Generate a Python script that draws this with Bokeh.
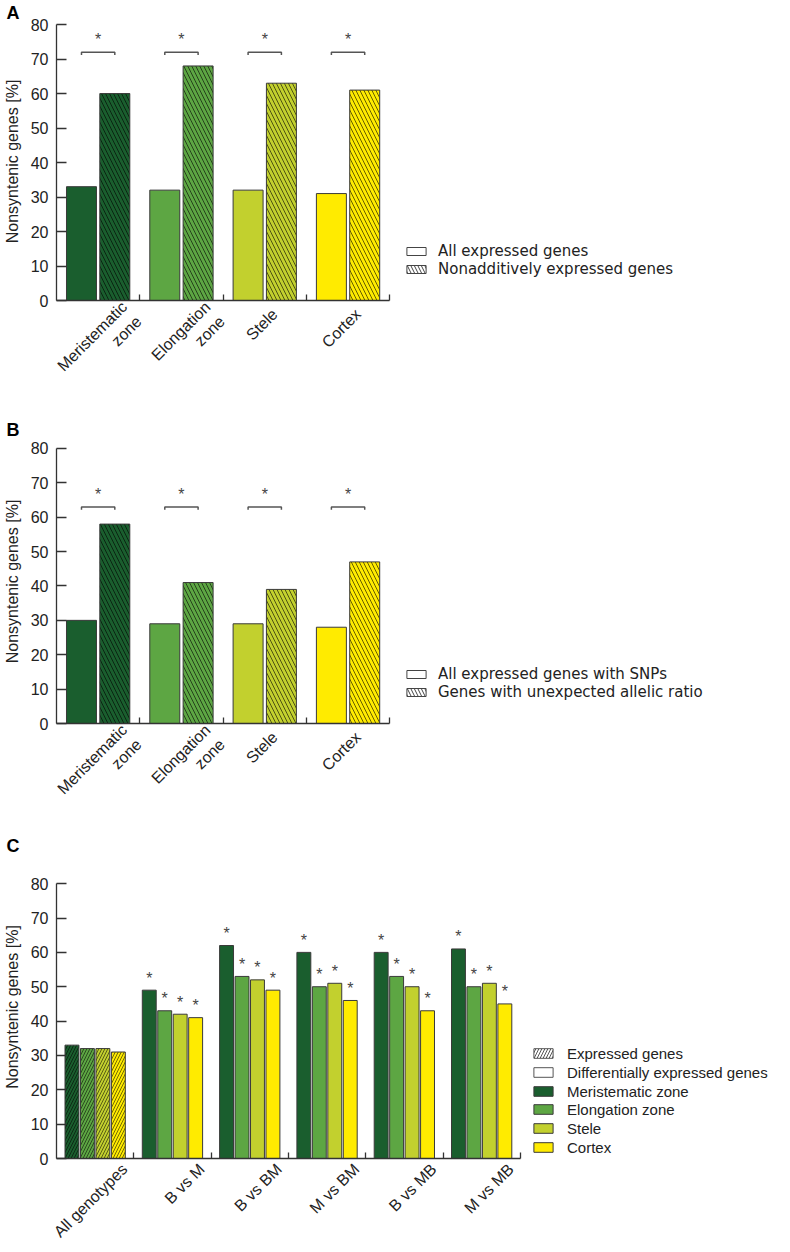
import numpy as np
from math import pi
from bokeh.plotting import figure
from bokeh.layouts import column
from bokeh.models import FixedTicker, Legend, LegendItem, Range1d
from bokeh.core.properties import value
from bokeh.embed import file_html
from bokeh.resources import INLINE

# ---------------- data ----------------
tissues = ["Meristematic zone", "Elongation zone", "Stele", "Cortex"]
tissue_ticklabels = ["Meristematic\nzone", "Elongation\nzone", "Stele", "Cortex"]
tissue_colors = ["#1a5e2e", "#5da643", "#c2d02e", "#ffeb00"]
y_ticks = [0, 10, 20, 30, 40, 50, 60, 70, 80]
y_title = "Nonsyntenic genes [%]"

a_all_expressed = [33, 32, 32, 31]
a_nonadditive = [60, 68, 63, 61]
a_bracket = [72, 72, 72, 72]
a_legend = ["All expressed genes", "Nonadditively expressed genes"]

b_all_snp = [30, 29, 29, 28]
b_unexpected = [58, 41, 39, 47]
b_bracket = [63, 63, 63, 63]
b_legend = ["All expressed genes with SNPs", "Genes with unexpected allelic ratio"]

c_groups = ["All genotypes", "B vs M", "B vs BM", "M vs BM", "B vs MB", "M vs MB"]
c_meristematic = [33, 49, 62, 60, 60, 61]
c_elongation = [32, 43, 53, 50, 53, 50]
c_stele = [32, 42, 52, 51, 50, 51]
c_cortex = [31, 41, 49, 46, 43, 45]
c_significant = [False, True, True, True, True, True]
c_legend = ["Expressed genes", "Differentially expressed genes"]

# ---------------- style ----------------
FONT = "Liberation Sans"
LEG_AB_FONT = "DejaVu Sans"
AXIS_COLOR = "#333333"
TEXT_COLOR = "#222222"
BAR_LINE = "#3a3a3a"
GROUP = 10          # x units per category group
FRAME_W = 720       # frame spans whole width; axis line bounded to the groups
NAN = np.array([np.nan])


def make_fig(letter, frame_h, n_groups, group_px, labels, y_end, border_bottom,
             label_size, label_standoff, shift_single, shift_multi):
    x_end = FRAME_W * GROUP / group_px
    p = figure(frame_width=FRAME_W, frame_height=frame_h,
               x_range=Range1d(0, x_end), y_range=Range1d(0, y_end),
               output_backend="svg", toolbar_location=None,
               min_border_left=52, min_border_right=0,
               min_border_bottom=border_bottom, min_border_top=0)
    p.title.text = letter
    p.title.text_font = FONT
    p.title.text_font_size = "18px"
    p.title.text_font_style = "bold"
    p.title.text_color = "black"
    p.title.align = "left"
    p.title.offset = -50
    p.title.standoff = 0
    p.outline_line_color = None
    p.grid.visible = False

    ya = p.yaxis[0]
    ya.ticker = FixedTicker(ticks=y_ticks)
    ya.bounds = (y_ticks[0], y_ticks[-1])
    ya.axis_label = y_title
    ya.axis_label_text_font = FONT
    ya.axis_label_text_font_size = "16px"
    ya.axis_label_text_font_style = "normal"
    ya.axis_label_text_color = TEXT_COLOR
    ya.axis_label_standoff = 7
    ya.major_label_text_font = FONT
    ya.major_label_text_font_size = "16px"
    ya.major_label_text_color = TEXT_COLOR
    ya.major_label_standoff = 8
    ya.major_tick_in = 10
    ya.major_tick_out = 0
    ya.minor_tick_line_color = None
    ya.axis_line_color = AXIS_COLOR
    ya.axis_line_width = 1.3
    ya.major_tick_line_color = AXIS_COLOR
    ya.major_tick_line_width = 1.3

    centers = np.array([(i + 0.5) * GROUP for i in range(n_groups)])
    # rotated labels hang slightly right of the group centre
    label_pos = [float(round(c + (shift_multi if "\n" in lab else shift_single), 2))
                 for c, lab in zip(centers, labels)]
    xa = p.xaxis[0]
    xa.bounds = (0, n_groups * GROUP)
    xa.ticker = FixedTicker(ticks=label_pos, minor_ticks=[(i + 1) * GROUP for i in range(n_groups)])
    xa.major_label_overrides = {lp: lab for lp, lab in zip(label_pos, labels)}
    xa.major_label_orientation = pi / 4
    xa.major_label_text_font = FONT
    xa.major_label_text_font_size = label_size
    xa.major_label_text_color = TEXT_COLOR
    xa.major_label_standoff = label_standoff
    xa.major_tick_line_color = None
    xa.minor_tick_in = 6
    xa.minor_tick_out = 0
    xa.minor_tick_line_color = AXIS_COLOR
    xa.minor_tick_line_width = 1.3
    xa.axis_line_color = AXIS_COLOR
    xa.axis_line_width = 1.3
    return p, centers


def add_row_legends(p, entries, x_off, bottom_off, pitch, font, size, glyph_h, standoff):
    n = len(entries)
    for k, (lab, r) in enumerate(entries):
        center = bottom_off + (n - 1 - k) * pitch
        h = 18
        leg = Legend(items=[LegendItem(label=lab, renderers=[r])],
                     location=(x_off, int(round(center - h / 2))),
                     glyph_width=24, glyph_height=glyph_h, label_height=h,
                     label_standoff=standoff, spacing=0, padding=0, margin=0,
                     border_line_color=None, background_fill_alpha=0,
                     label_text_font=font, label_text_font_size=size,
                     label_text_color=TEXT_COLOR, label_text_baseline="middle")
        p.add_layout(leg)


def pair_panel(letter, frame_h, y_end, border_bottom, plain_vals, hatched_vals,
               bracket_vals, legend_labels):
    p, centers = make_fig(letter, frame_h, len(tissues), 83.3, tissue_ticklabels, y_end,
                          border_bottom, "16px", 5, 1.2, 4.0)
    p.vbar(x=centers - 2, top=plain_vals, width=3.6, fill_color=tissue_colors,
           line_color=BAR_LINE, line_width=1)
    p.vbar(x=centers + 2, top=hatched_vals, width=3.6, fill_color=tissue_colors,
           line_color=BAR_LINE, line_width=1, hatch_pattern="\\", hatch_color="black",
           hatch_alpha=0.6, hatch_scale=8, hatch_weight=1)
    bx = [[c - 2, c - 2, c + 2, c + 2] for c in centers]
    by = [[y - 0.8, y, y, y - 0.8] for y in bracket_vals]
    p.multi_line(xs=bx, ys=by, line_color="#555555", line_width=1.5)
    p.text(x=centers, y=np.array(bracket_vals, dtype=float) + 3.7, text=["*"] * len(centers),
           text_align="center", text_baseline="alphabetic", text_font=value(FONT),
           text_font_size="16px", text_color="#444444")
    r1 = p.vbar(x=NAN, top=NAN, width=1, fill_color="white", line_color="#444444")
    r2 = p.vbar(x=NAN, top=NAN, width=1, fill_color="white", line_color="#444444",
                hatch_pattern="\\", hatch_color="#444444", hatch_scale=7, hatch_weight=1)
    add_row_legends(p, [(legend_labels[0], r1), (legend_labels[1], r2)],
                    348, 31, 18, LEG_AB_FONT, "15px", 10, 10)
    return p


pA = pair_panel("A", 278, 80.6, 117, a_all_expressed, a_nonadditive, a_bracket, a_legend)
pB = pair_panel("B", 284, 82.6, 110, b_all_snp, b_unexpected, b_bracket, b_legend)

# ---------------- panel C ----------------
pC, c_centers = make_fig("C", 303, len(c_groups), 77.3, c_groups, 88.2, 80, "16px", 2, 3.8, 3.8)
c_series = [c_meristematic, c_elongation, c_stele, c_cortex]
hatches = ["/" if g == "All genotypes" else " " for g in c_groups]
for i, (vals, col) in enumerate(zip(c_series, tissue_colors)):
    xs = c_centers + (2 * i - 3)
    pC.vbar(x=xs, top=vals, width=1.8, fill_color=col, line_color=BAR_LINE, line_width=1,
            hatch_pattern=hatches, hatch_color="black", hatch_alpha=0.55, hatch_scale=6,
            hatch_weight=1)
    sig_x = [x for x, s in zip(xs, c_significant) if s]
    sig_y = [v + 3.5 for v, s in zip(vals, c_significant) if s]
    pC.text(x=sig_x, y=sig_y, text=["*"] * len(sig_x), text_align="center",
            text_baseline="alphabetic", text_font=value(FONT), text_font_size="16px",
            text_color="#444444")

rc = [pC.vbar(x=NAN, top=NAN, width=1, fill_color="white", line_color="#555555",
              hatch_pattern="/", hatch_color="#555555", hatch_scale=6, hatch_weight=1),
      pC.vbar(x=NAN, top=NAN, width=1, fill_color="white", line_color="#555555")]
rc += [pC.vbar(x=NAN, top=NAN, width=1, fill_color=col, line_color=BAR_LINE)
       for col in tissue_colors]
entries = list(zip(c_legend + tissues, rc))
add_row_legends(pC, entries, 475, 11, 18.8, FONT, "15px", 12, 12)

layout = column(pA, pB, pC)
open("out.html", "w").write(file_html(layout, INLINE))
